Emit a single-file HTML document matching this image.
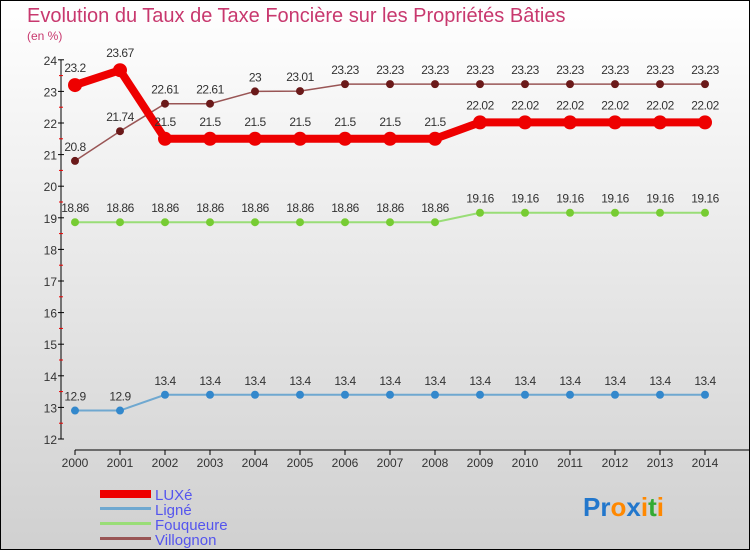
<!DOCTYPE html>
<html><head><meta charset="utf-8"><style>
body{margin:0}
svg{display:block;font-family:"Liberation Sans",sans-serif}
</style></head><body>
<svg width="750" height="550" viewBox="0 0 750 550">
<defs><linearGradient id="bg" x1="0" y1="0" x2="0" y2="1"><stop offset="0" stop-color="#ffffff"/><stop offset="1" stop-color="#d0d0d0"/></linearGradient></defs>
<rect x="0.5" y="0.5" width="749" height="549" fill="url(#bg)" stroke="#000"/>
<text x="27" y="22" font-size="20" fill="#c8386e">Evolution du Taux de Taxe Foncière sur les Propriétés Bâties</text>
<text x="27" y="40" font-size="12" fill="#c8386e">(en %)</text>
<g id="axes"></g>
<g id="series"></g>
<g>
<rect x="100" y="490" width="51" height="8" fill="#ee0000"/>
<rect x="100" y="507" width="51" height="3" fill="#6fa8d0"/>
<rect x="100" y="522" width="51" height="3" fill="#99dd77"/>
<rect x="100" y="537" width="51" height="3" fill="#995555"/>
<text x="155" y="500" font-size="15" fill="#5555ee">LUXé</text>
<text x="155" y="515" font-size="15" fill="#5555ee">Ligné</text>
<text x="155" y="530" font-size="15" fill="#5555ee">Fouqueure</text>
<text x="155" y="545" font-size="15" fill="#5555ee">Villognon</text>
</g>
<text x="583" y="516" font-size="26" font-weight="bold"><tspan fill="#2277cc">Pr</tspan><tspan fill="#ff8800">o</tspan><tspan fill="#2277cc">x</tspan><tspan fill="#ff8800">i</tspan><tspan fill="#33aa33">t</tspan><tspan fill="#ff8800">i</tspan></text>
</svg>
<script>
const years=[2000,2001,2002,2003,2004,2005,2006,2007,2008,2009,2010,2011,2012,2013,2014];
const yTicks=[12,13,14,15,16,17,18,19,20,21,22,23,24];
const luxe=[23.2,23.67,21.5,21.5,21.5,21.5,21.5,21.5,21.5,22.02,22.02,22.02,22.02,22.02,22.02];
const ligne=[12.9,12.9,13.4,13.4,13.4,13.4,13.4,13.4,13.4,13.4,13.4,13.4,13.4,13.4,13.4];
const fouqueure=[18.86,18.86,18.86,18.86,18.86,18.86,18.86,18.86,18.86,19.16,19.16,19.16,19.16,19.16,19.16];
const villognon=[20.8,21.74,22.61,22.61,23,23.01,23.23,23.23,23.23,23.23,23.23,23.23,23.23,23.23,23.23];
const NS="http://www.w3.org/2000/svg";
const xs=i=>75+i*45;
const ys=v=>439-(v-12)*31.6;
function mk(t,a,p){const e=document.createElementNS(NS,t);for(const k in a)e.setAttribute(k,a[k]);p.appendChild(e);return e;}
const ax=document.getElementById('axes');
let yl=mk('line',{x1:61,y1:ys(24),x2:61,y2:ys(12),stroke:'#000'},ax);


let xl=mk('line',{x1:75,y1:450,x2:750,y2:450,stroke:'#000'},ax);


yTicks.forEach((v,i)=>{
 mk('line',{x1:58,x2:64,y1:ys(v),y2:ys(v),stroke:'#000'},ax);
 if(i<yTicks.length-1) mk('line',{x1:59,x2:63,y1:ys(v+0.5),y2:ys(v+0.5),stroke:'#e00'},ax);
 const t=mk('text',{x:57,y:ys(v)+5,'font-size':12,fill:'#333','text-anchor':'end'},ax);
 
 
 t.textContent=v;
});
years.forEach((y,i)=>{
 mk('line',{x1:xs(i),x2:xs(i),y1:450,y2:455,stroke:'#000'},ax);
 const t=mk('text',{x:xs(i),y:467,'font-size':12,fill:'#333','text-anchor':'middle'},ax);
 
 
 t.textContent=y;
});
const sg=document.getElementById('series');
function series(name,data,color,w,r,dot){
 const g=mk('g',{},sg);
 
 
 mk('polyline',{points:data.map((v,i)=>xs(i)+','+ys(v)).join(' '),fill:'none',stroke:color,'stroke-width':w},g);
 data.forEach((v,i)=>{
  const c=mk('circle',{cx:xs(i),cy:ys(v),r:r,fill:dot},g);
  
  
  const t=mk('text',{x:xs(i),y:ys(v)-r-6,'font-size':12,fill:'#333','text-anchor':'middle','letter-spacing':'-0.5'},g);
  
  
  t.textContent=v;
 });
}
series('ligne',ligne,'#6fa8d0',2,4,'#3388cc');
series('fouqueure',fouqueure,'#99dd77',2,4,'#77cc33');
series('villognon',villognon,'#995555',1.5,4,'#6b1a1a');
series('luxe',luxe,'#ee0000',8,7,'#ee0000');
</script>
</body></html>
